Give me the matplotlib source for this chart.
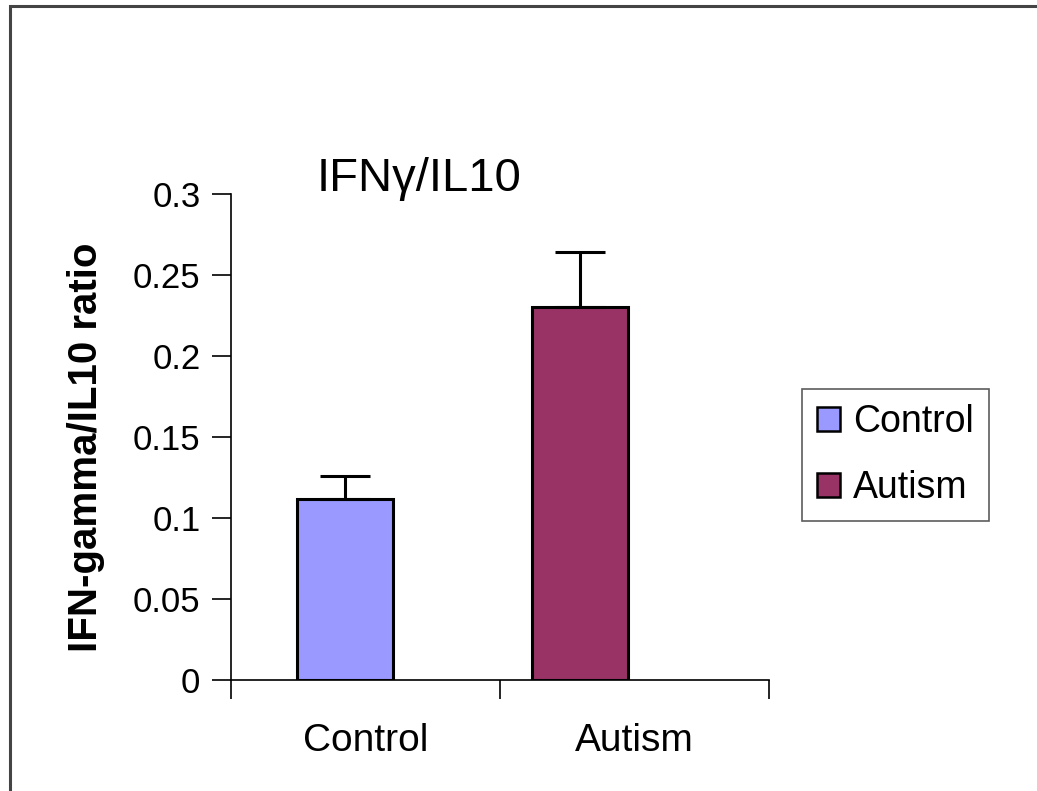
import numpy as np
import matplotlib.pyplot as plt
from matplotlib.lines import Line2D

plt.rcParams['font.family'] = ['Liberation Sans', 'DejaVu Sans']

groups = ['Control', 'Autism']
means = [0.112, 0.230]
errors = [0.014, 0.034]
colors = ['#9999ff', '#993366']
bar_pos = [0.424, 1.297]
yticks = [0, 0.05, 0.1, 0.15, 0.2, 0.25, 0.3]
ytick_labels = ['0', '0.05', '0.1', '0.15', '0.2', '0.25', '0.3']

fig = plt.figure(figsize=(10.37, 7.91), dpi=100)
W, H = 1037, 791
ax = fig.add_axes([231 / W, 1 - 680 / H, (769 - 231) / W, (680 - 194) / H])

# outer frame of the slide: only the left and top edges are inside the picture
fx, fy = 10 / W, 1 - 6 / H
fig.add_artist(Line2D([fx, fx, 1.05], [-0.05, fy, fy], transform=fig.transFigure,
                      color='#444444', linewidth=2.2, solid_joinstyle='miter'))

bars = []
for x, m, e, c, g in zip(bar_pos, means, errors, colors, groups):
    b = ax.bar(x, m, width=0.357, color=c, edgecolor='black', linewidth=2.2, label=g, zorder=2)
    ax.errorbar(x, m, yerr=[[0], [e]], fmt='none', ecolor='black', elinewidth=2.2,
                capsize=18, capthick=2.2, zorder=3)
    bars.append(b)

ax.set_xlim(0, 2)
ax.set_ylim(0, 0.3)
ax.set_yticks(yticks)
ax.set_yticklabels(ytick_labels, fontsize=25)
ax.set_xticks([0, 1, 2])
ax.set_xticklabels([])
ax.set_xticks([0.5, 1.5], minor=True)
ax.set_xticklabels(groups, minor=True, fontsize=28)
ax.tick_params(axis='x', which='minor', length=0, pad=31)
ax.tick_params(axis='x', which='major', length=14, width=1.2, direction='out')
ax.tick_params(axis='y', length=14, width=1.2, direction='out', pad=8)

for s in ['top', 'right']:
    ax.spines[s].set_visible(False)
ax.spines['left'].set_linewidth(1.2)
ax.spines['bottom'].set_linewidth(1.2)

ax.set_ylabel('IFN-gamma/IL10 ratio', fontsize=29, fontweight='bold')
ax.yaxis.set_label_coords(-(231 - 105) / (769 - 231), (680 - 447) / (680 - 194))
fig.text(317 / W, 1 - 191 / H, 'IFNγ/IL10', fontsize=34, ha='left', va='baseline')

leg = fig.legend(handles=[b[0] for b in bars], labels=groups, loc='upper left',
                 bbox_to_anchor=(802 / W, 1 - 389 / H), fontsize=27, frameon=True,
                 fancybox=False, edgecolor='#333333', handlelength=0.62,
                 handleheight=0.62, handletextpad=0.35, borderpad=0.4,
                 labelspacing=0.8, borderaxespad=0)
leg.get_frame().set_linewidth(1.2)
for h in leg.legend_handles:
    h.set_linewidth(1.8)

fig.savefig('out.png', dpi=100)
